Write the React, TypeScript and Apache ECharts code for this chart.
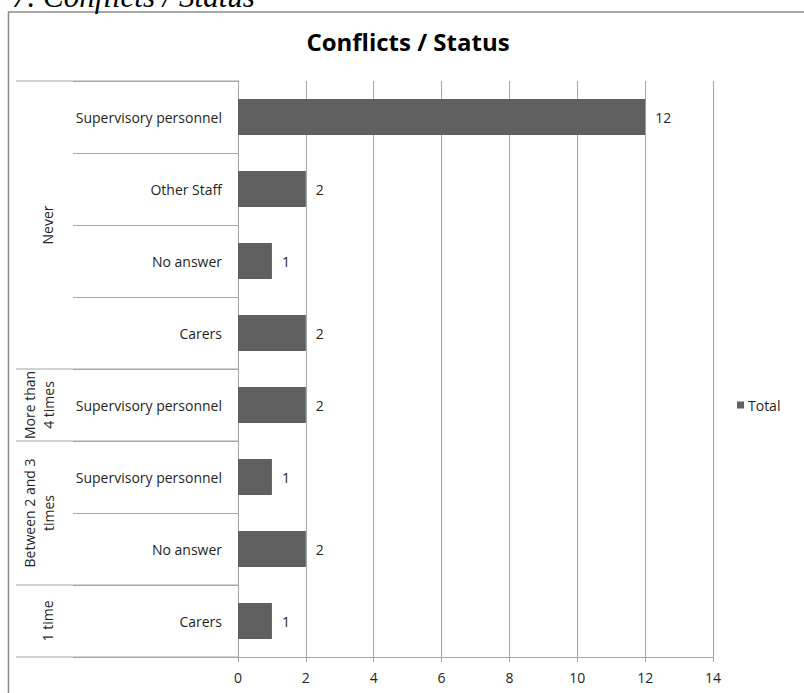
import React, { useEffect, useRef } from "react";
import * as echarts from "echarts";

const categories = [
  "Supervisory personnel",
  "Other Staff",
  "No answer",
  "Carers",
  "Supervisory personnel",
  "Supervisory personnel",
  "No answer",
  "Carers",
];
const values = [12, 2, 1, 2, 2, 1, 2, 1];
const groupNames = ["Never", "More than\n4 times", "Between 2 and 3\ntimes", "1 time"];
const groupSizes = [4, 1, 2, 1];
const xTicks = { min: 0, max: 14, interval: 2 };
const seriesName = "Total";
const chartTitle = "Conflicts / Status";
const docHeading = "7. Conflicts / Status";

const FONT = "'Open Sans', sans-serif";
const GRID_COLOR = "#a6a6a6";
const TEXT_COLOR = "#1f1f1f";

export default function App() {
  const ref = useRef<HTMLDivElement>(null);

  useEffect(() => {
    if (!ref.current) return;
    const chart = echarts.init(ref.current, null, { renderer: "svg" });
    chart.setOption({
      animation: false,
      title: {
        text: chartTitle,
        left: 408,
        top: 29,
        textAlign: "center",
        padding: 0,
        textStyle: { fontFamily: FONT, fontWeight: "bold", fontSize: 24, color: "#000" },
      },
      legend: {
        data: [seriesName],
        left: 732,
        top: 393,
        icon: "rect",
        itemWidth: 7,
        itemHeight: 7,
        itemGap: 5,
        textStyle: { fontFamily: FONT, fontSize: 14, color: TEXT_COLOR, padding: [0, 0, 0, -1] },
      },
      grid: { left: 238, right: 91, top: 81, bottom: 36, containLabel: false },
      xAxis: {
        type: "value",
        min: xTicks.min,
        max: xTicks.max,
        interval: xTicks.interval,
        axisLine: { show: true, lineStyle: { color: GRID_COLOR, width: 1 } },
        axisTick: { show: true, length: 5, lineStyle: { color: GRID_COLOR } },
        splitLine: { show: true, lineStyle: { color: GRID_COLOR, width: 1 } },
        axisLabel: { fontFamily: FONT, fontSize: 14, color: TEXT_COLOR, margin: 13 },
      },
      yAxis: {
        type: "category",
        inverse: true,
        data: categories,
        axisLine: { show: true, lineStyle: { color: GRID_COLOR, width: 1 } },
        axisTick: { show: true, length: 165, interval: 0, lineStyle: { color: GRID_COLOR } },
        axisLabel: { fontFamily: FONT, fontSize: 14, color: TEXT_COLOR, margin: 16, interval: 0 },
        splitLine: { show: false },
      },
      series: [
        {
          name: seriesName,
          type: "bar",
          data: values,
          barWidth: "50%",
          itemStyle: { color: "#606060" },
          label: {
            show: true,
            position: "right",
            distance: 10,
            fontFamily: FONT,
            fontSize: 14,
            color: TEXT_COLOR,
          },
        },
      ],
    });

    const c0 = chart.convertToPixel({ yAxisIndex: 0 }, 0) as number;
    const c1 = chart.convertToPixel({ yAxisIndex: 0 }, 1) as number;
    const band = c1 - c0;
    const x0 = chart.convertToPixel({ xAxisIndex: 0 }, 0) as number;
    const boundary = (i: number) => c0 + band * i - band / 2;

    const graphics: any[] = [
      {
        type: "rect",
        shape: { x: 8.5, y: 12, width: 820, height: 700 },
        style: { fill: "none", stroke: "#8c8c8c", lineWidth: 1.5 },
        silent: true,
      },
      {
        type: "text",
        x: 12,
        y: -4,
        style: {
          text: docHeading,
          fontFamily: "'Liberation Serif', serif",
          fontStyle: "italic",
          fontSize: 31,
          fill: "#000",
          verticalAlign: "middle",
          align: "left",
        },
        silent: true,
      },
    ];

    let start = 0;
    graphics.push({
      type: "line",
      shape: { x1: 16, y1: boundary(0), x2: x0, y2: boundary(0) },
      style: { stroke: GRID_COLOR, lineWidth: 1 },
      silent: true,
    });
    groupNames.forEach((name, gi) => {
      const end = start + groupSizes[gi];
      const yb = boundary(end);
      graphics.push({
        type: "line",
        shape: { x1: 16, y1: yb, x2: x0, y2: yb },
        style: { stroke: GRID_COLOR, lineWidth: 1 },
        silent: true,
      });
      const mid = (boundary(start) + yb) / 2;
      const multi = name.indexOf("\n") >= 0;
      graphics.push({
        type: "text",
        x: multi ? 39 : 47,
        y: mid,
        rotation: Math.PI / 2,
        style: {
          text: name,
          fontFamily: FONT,
          fontSize: 14,
          lineHeight: 19,
          fill: TEXT_COLOR,
          align: "center",
          verticalAlign: "middle",
        },
        silent: true,
      });
      start = end;
    });

    chart.setOption({ graphic: graphics });
    return () => chart.dispose();
  }, []);

  return (
    <div
      ref={ref}
      style={{ position: "absolute", left: 0, top: 0, width: 804, height: 693, background: "#fff" }}
    />
  );
}
